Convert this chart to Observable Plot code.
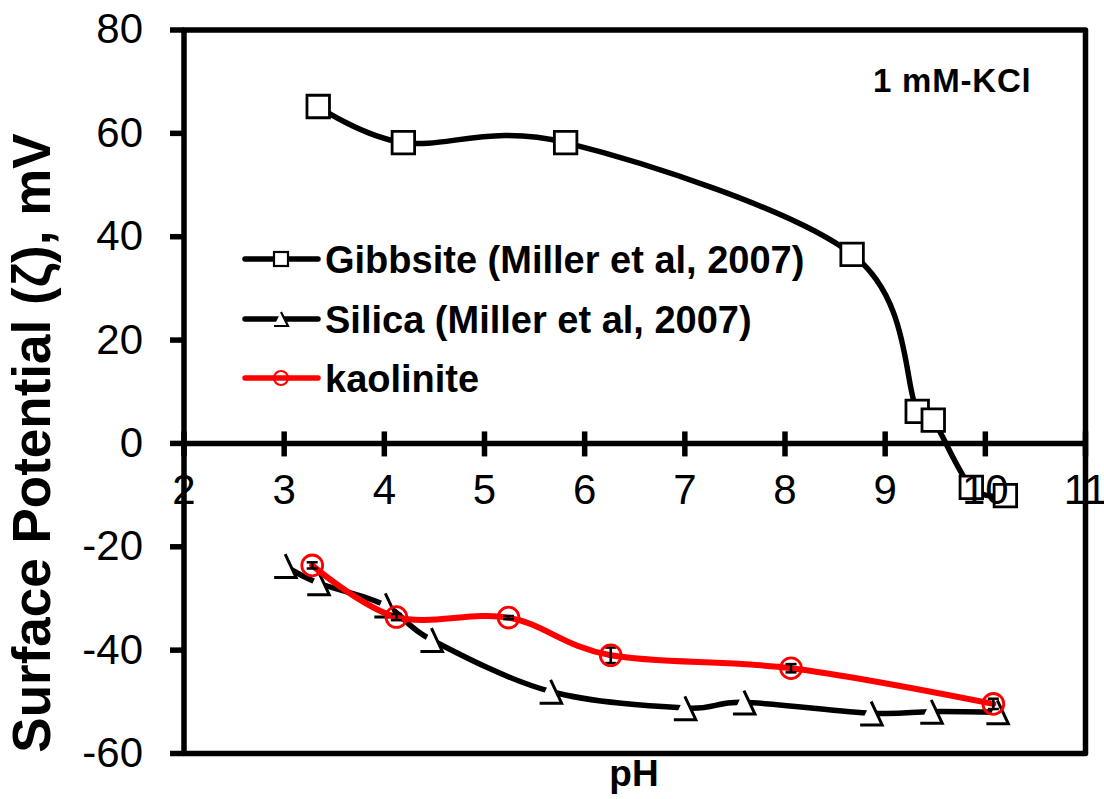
<!DOCTYPE html>
<html>
<head>
<meta charset="utf-8">
<script src="https://cdn.jsdelivr.net/npm/d3@7"></script>
<script src="https://cdn.jsdelivr.net/npm/@observablehq/plot@0.6"></script>
<style>
  body { margin: 0; background: #fff; }
  #chart { width: 1104px; height: 799px; }
  #chart svg { overflow: visible; }
</style>
</head>
<body>
<div id="chart"></div>
<script>
// Zeta potential vs pH, 1 mM KCl
const gibbsitePH   = [3.34, 4.19, 5.81, 8.67, 9.32, 9.48, 9.86, 10.2];
const gibbsiteZeta = [65.2, 58.2, 58.2, 36.6, 6.2, 4.5, -8.5, -10.1];

const silicaPH   = [3.01, 3.34, 4.01, 4.47, 5.66, 7.0, 7.59, 8.86, 9.46, 10.12];
const silicaZeta = [-23.7, -27.0, -31.3, -38.0, -48.0, -51.2, -50.1, -52.2, -51.9, -52.0];

const kaolinitePH   = [3.28, 4.12, 5.24, 6.26, 8.06, 10.08];
const kaoliniteZeta = [-23.6, -33.6, -33.7, -41.0, -43.5, -50.4];
const kaoliniteErr  = [0.6, 0.6, 0.3, 1.5, 0.8, 1.0];

const xTicks = [2, 3, 4, 5, 6, 7, 8, 9, 10, 11];
const yTicks = [-60, -40, -20, 0, 20, 40, 60, 80];

const seriesNames = ["Gibbsite (Miller et al, 2007)", "Silica (Miller et al, 2007)", "kaolinite"];
const seriesColors = ["#000000", "#000000", "#ff0000"];
const yTitle = "Surface Potential (\u03b6), mV";
const xTitle = "pH";
const note = "1 mM-KCl";

const FONT = "'Liberation Sans', Arial, Helvetica, sans-serif";

const gibbsite = gibbsitePH.map((x, i) => ({x, y: gibbsiteZeta[i]}));
const silica = silicaPH.map((x, i) => ({x, y: silicaZeta[i]}));
const kaolinite = kaolinitePH.map((x, i) => ({x, y: kaoliniteZeta[i], e: kaoliniteErr[i]}));

// smoothed lines: uniform Catmull-Rom (Bezier handles at 1/6 of the neighbour chord)
const smooth = d3.curveCardinal.tension(0);

// Marker shapes drawn as custom symbols
const squareSym = {draw(ctx) { const s = 11.25; ctx.moveTo(-s, -s); ctx.lineTo(s, -s); ctx.lineTo(s, s); ctx.lineTo(-s, s); ctx.closePath(); }};
const triFill   = {draw(ctx) { ctx.moveTo(0, -11.7); ctx.lineTo(11, 11.7); ctx.lineTo(-11, 11.7); ctx.closePath(); }};
const triOpen   = {draw(ctx) { ctx.moveTo(0, -11.7); ctx.lineTo(11, 11.7); ctx.lineTo(-11, 11.7); }};
const capSym    = {draw(ctx) { ctx.moveTo(-5.5, 0); ctx.lineTo(5.5, 0); }};
const vTickSym  = {draw(ctx) { ctx.moveTo(0, -12); ctx.lineTo(0, 13); }};
const hTickSym  = {draw(ctx) { ctx.moveTo(-14, 0); ctx.lineTo(0, 0); }};

const plot = Plot.plot({
  width: 1104,
  height: 799,
  marginLeft: 183.5,
  marginRight: 19,
  marginTop: 29.5,
  marginBottom: 46,
  x: {domain: [2, 11], axis: null},
  y: {domain: [-60, 80], axis: null},
  style: {fontFamily: FONT, background: "white", color: "black"},
  marks: [
    // left axis: outward ticks and labels
    Plot.dot(yTicks, {x: () => 2, y: d => d, symbol: hTickSym, stroke: "black", strokeWidth: 5.5, fill: "none", r: 5}),
    Plot.text(yTicks, {x: () => 2, y: d => d, dx: -41, text: d => String(d), textAnchor: "end", fontSize: 42, fill: "black"}),

    // horizontal axis line at zero with crossing ticks
    Plot.ruleY([0], {strokeWidth: 5.5}),
    Plot.dot(xTicks, {x: d => d, y: () => 0, symbol: vTickSym, stroke: "black", strokeWidth: 5.5, fill: "none", r: 5}),

    // silica
    Plot.line(silica, {x: "x", y: "y", curve: smooth, stroke: seriesColors[1], strokeWidth: 5.5}),
    Plot.dot(silica, {x: "x", y: "y", symbol: triFill, fill: "white", stroke: "none", r: 10}),
    Plot.dot(silica, {x: "x", y: "y", symbol: triOpen, fill: "none", stroke: "black", strokeWidth: 3, r: 10}),

    // gibbsite
    Plot.line(gibbsite, {x: "x", y: "y", curve: smooth, stroke: seriesColors[0], strokeWidth: 5.5}),
    Plot.dot(gibbsite, {x: "x", y: "y", symbol: squareSym, fill: "white", stroke: "black", strokeWidth: 2.8, r: 10}),

    // kaolinite
    Plot.line(kaolinite, {x: "x", y: "y", curve: smooth, stroke: seriesColors[2], strokeWidth: 6}),
    Plot.ruleX(kaolinite, {x: "x", y1: d => d.y - d.e, y2: d => d.y + d.e, stroke: "black", strokeWidth: 2.5}),
    Plot.dot(kaolinite, {x: "x", y: d => d.y - d.e, symbol: capSym, stroke: "black", strokeWidth: 2.5, fill: "none", r: 5}),
    Plot.dot(kaolinite, {x: "x", y: d => d.y + d.e, symbol: capSym, stroke: "black", strokeWidth: 2.5, fill: "none", r: 5}),
    Plot.dot(kaolinite, {x: "x", y: "y", r: 10.4, fill: "none", stroke: seriesColors[2], strokeWidth: 2.8}),

    // x tick labels sit below the zero line
    Plot.text(xTicks, {x: d => d, y: () => 0, dy: 47, text: d => String(d), fontSize: 42, fill: "black"}),

    Plot.frame({stroke: "black", strokeWidth: 5.5, strokeLinejoin: "round"})
  ]
});

document.getElementById("chart").appendChild(plot);

// titles, note and legend
const svg = d3.select(plot);

svg.append("text")
  .attr("transform", "translate(50,443) rotate(-90)")
  .attr("text-anchor", "middle")
  .attr("font-family", FONT).attr("font-size", 53).attr("font-weight", "bold")
  .attr("fill", "black")
  .text(yTitle);

svg.append("text")
  .attr("x", 634).attr("y", 786)
  .attr("text-anchor", "middle")
  .attr("font-family", FONT).attr("font-size", 37).attr("font-weight", "bold")
  .attr("fill", "black")
  .text(xTitle);

svg.append("text")
  .attr("x", 873).attr("y", 92)
  .attr("text-anchor", "start")
  .attr("font-family", FONT).attr("font-size", 33).attr("font-weight", "bold")
  .attr("letter-spacing", 0.8)
  .attr("fill", "black")
  .text(note);

const legend = svg.append("g")
  .attr("font-family", FONT).attr("font-size", 38).attr("font-weight", "bold")
  .attr("text-anchor", "start");
const rowY = [259, 319, 378];
seriesNames.forEach((name, i) => {
  const g = legend.append("g").attr("transform", `translate(0,${rowY[i]})`);
  g.append("line").attr("x1", 245).attr("x2", 318).attr("y1", 0).attr("y2", 0)
    .attr("stroke", seriesColors[i]).attr("stroke-width", 5.5).attr("stroke-linecap", "round");
  if (i === 0) {
    g.append("rect").attr("x", 274).attr("y", -7).attr("width", 14).attr("height", 14)
      .attr("fill", "white").attr("stroke", "black").attr("stroke-width", 2.2);
  } else if (i === 1) {
    g.append("path").attr("d", "M281,-7L288,7L274,7Z").attr("fill", "white").attr("stroke", "none");
    g.append("path").attr("d", "M281,-7L288,7L274,7").attr("fill", "none").attr("stroke", "black").attr("stroke-width", 2.2);
  } else {
    g.append("circle").attr("cx", 281).attr("cy", 0).attr("r", 7)
      .attr("fill", "none").attr("stroke", seriesColors[i]).attr("stroke-width", 2.2);
  }
  g.append("text").attr("x", 325).attr("y", 0).attr("dy", "0.36em").attr("fill", "black").text(name);
});
</script>
</body>
</html>
